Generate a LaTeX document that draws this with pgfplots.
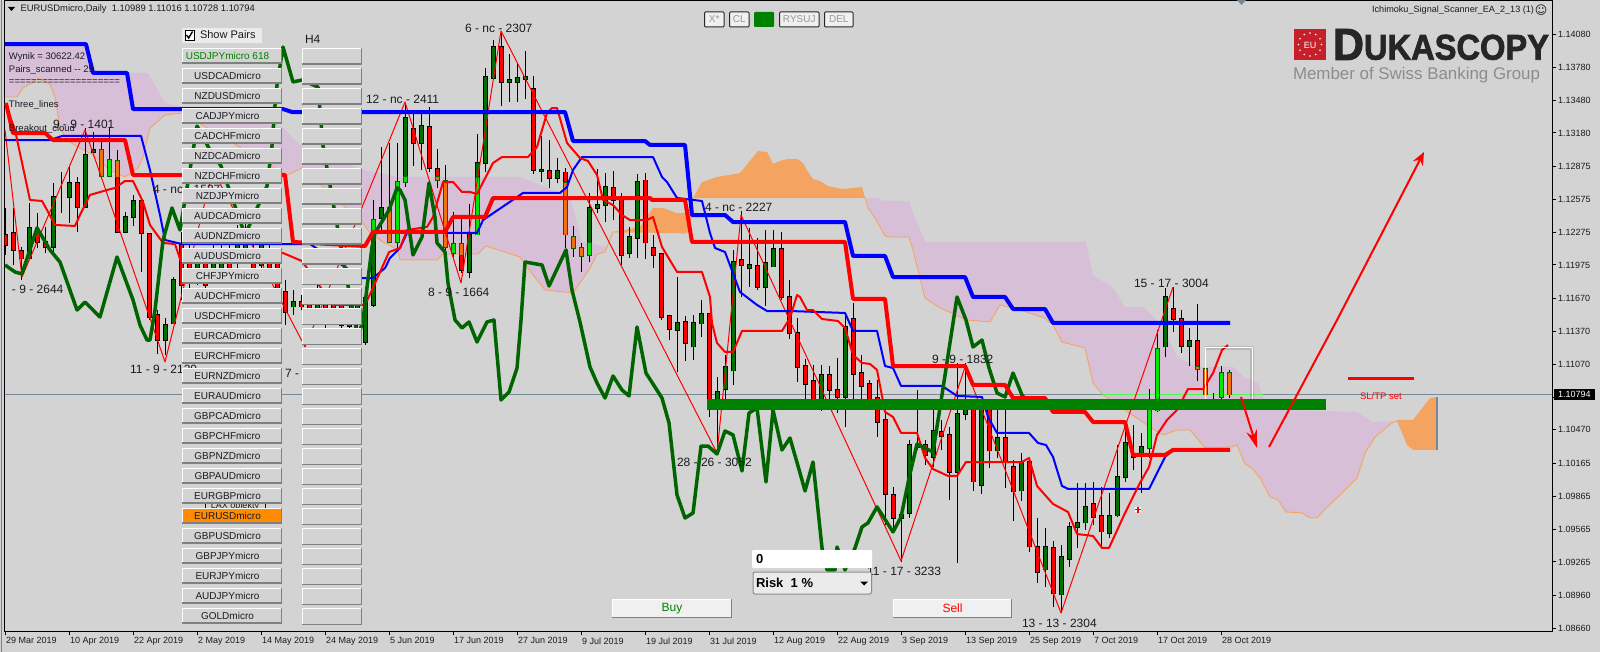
\documentclass[border=0pt]{standalone}
\usepackage{fontspec}
\setmainfont{Liberation Sans}
\newfontfamily\dejavu{DejaVu Sans}
\newfontfamily\logofont{Liberation Sans}[BoldFeatures={FakeBold=2}]
\usepackage{graphicx}
\usepackage{pgfplots}
\usepackage{pgfplotstable}
\pgfplotsset{compat=1.18}
\usetikzlibrary{arrows.meta}

\definecolor{bg}{HTML}{D3D3D3}
\definecolor{kumo}{HTML}{D8BFD8}
\definecolor{sandy}{HTML}{F4A460}
\definecolor{candlegreen}{HTML}{007000}
\definecolor{candlelime}{HTML}{00E600}
\definecolor{candleorange}{HTML}{F07010}
\definecolor{chikou}{HTML}{006400}
\definecolor{barbottom}{HTML}{008000}
\definecolor{slate}{HTML}{778899}
\definecolor{txt}{HTML}{1A1A22}
\definecolor{logored}{HTML}{C8202A}
\definecolor{activebtn}{HTML}{FF8C00}

\newcommand\fs[1]{\fontsize{#1}{#1}\selectfont}

% high / low per bar
\pgfplotstableread{
x h l
0 1.12495 1.12066
1 1.12495 1.11975
2 1.12139 1.11838
3 1.12541 1.12021
4 1.12449 1.12130
5 1.12322 1.12084
6 1.12723 1.12084
7 1.12823 1.12449
8 1.12869 1.12358
9 1.12778 1.12276
10 1.13225 1.12504
11 1.13188 1.13006
12 1.13115 1.12778
13 1.13234 1.12778
14 1.13024 1.12267
15 1.12458 1.12267
16 1.12614 1.12331
17 1.12568 1.11911
18 1.12267 1.11473
19 1.11564 1.11163
20 1.11491 1.11154
21 1.11865 1.11437
22 1.12276 1.11656
23 1.12203 1.11747
24 1.12112 1.11792
25 1.12112 1.11729
26 1.12157 1.11838
27 1.12203 1.11884
28 1.12203 1.11838
29 1.12340 1.11929
30 1.12367 1.12002
31 1.12313 1.11856
32 1.12249 1.11911
33 1.12157 1.11838
34 1.12112 1.11692
35 1.11838 1.11427
36 1.11747 1.11519
37 1.11701 1.11564
38 1.11729 1.11491
39 1.11792 1.11455
40 1.11747 1.11400
41 1.11701 1.11427
42 1.11674 1.11400
43 1.11656 1.11382
44 1.11747 1.11336
45 1.11774 1.11245
46 1.12568 1.11592
47 1.13052 1.12267
48 1.13088 1.12185
49 1.13088 1.12112
50 1.13453 1.12687
51 1.13362 1.12878
52 1.13362 1.12842
53 1.13417 1.12823
54 1.13033 1.12678
55 1.12887 1.12084
56 1.12458 1.12048
57 1.12413 1.11902
58 1.12532 1.11856
59 1.13170 1.12249
60 1.13773 1.12823
61 1.14028 1.13663
62 1.14101 1.13426
63 1.13900 1.13462
64 1.13818 1.13462
65 1.13928 1.13490
66 1.13699 1.12805
67 1.13152 1.12732
68 1.13115 1.12678
69 1.12951 1.12723
70 1.12860 1.12130
71 1.12331 1.12048
72 1.12176 1.11911
73 1.12632 1.12002
74 1.12851 1.12449
75 1.12814 1.12367
76 1.12833 1.12385
77 1.12632 1.11975
78 1.12322 1.12039
79 1.12805 1.12039
80 1.12814 1.12030
81 1.12249 1.11947
82 1.12084 1.11473
83 1.11510 1.11290
84 1.11865 1.10998
85 1.11510 1.11099
86 1.11519 1.11108
87 1.11656 1.11318
88 1.11528 1.10588
89 1.10953 1.10259
90 1.11154 1.10743
91 1.12112 1.10880
92 1.12468 1.11683
93 1.12313 1.11774
94 1.12221 1.11747
95 1.12294 1.11601
96 1.12294 1.11957
97 1.12276 1.11656
98 1.11838 1.11300
99 1.11491 1.10907
100 1.11117 1.10743
101 1.11062 1.10697
102 1.11062 1.10643
103 1.11053 1.10697
104 1.11126 1.10624
105 1.11519 1.10497
106 1.11628 1.10697
107 1.11154 1.10697
108 1.10926 1.10697
109 1.10926 1.10405
110 1.10679 1.09602
111 1.09949 1.09575
112 1.09694 1.09265
113 1.10378 1.09666
114 1.10834 1.10287
115 1.10378 1.10150
116 1.10652 1.10132
117 1.10561 1.10287
118 1.10497 1.09831
119 1.11081 1.09256
120 1.11081 1.10561
121 1.10743 1.09913
122 1.10716 1.09885
123 1.10743 1.10123
124 1.10652 1.10214
125 1.10679 1.09940
126 1.10195 1.09639
127 1.10259 1.09821
128 1.10214 1.09356
129 1.09666 1.09073
130 1.09575 1.09037
131 1.09456 1.08854
132 1.09420 1.08799
133 1.09630 1.09219
134 1.09986 1.09393
135 1.09986 1.09557
136 1.09995 1.09602
137 1.09949 1.09393
138 1.09894 1.09484
139 1.10332 1.09675
140 1.10515 1.09995
141 1.10515 1.10104
142 1.10442 1.09894
143 1.10843 1.10214
144 1.11382 1.10634
145 1.11765 1.11135
146 1.11774 1.11364
147 1.11564 1.11172
148 1.11400 1.11053
149 1.11619 1.10916
150 1.11062 1.10780
151 1.10807 1.10743
152 1.11053 1.10752
153 1.11017 1.10761
}\wicktable

\pgfplotstableread{
x t b
0 1.12249 1.12157
1 1.12267 1.12112
2 1.12103 1.12030
4 1.12276 1.12185
5 1.12185 1.12139
9 1.12723 1.12504
14 1.12778 1.12276
17 1.12559 1.12267
18 1.12258 1.11500
19 1.11519 1.11290
22 1.12157 1.11792
23 1.12112 1.11884
25 1.12002 1.11792
28 1.12039 1.11929
31 1.12066 1.11884
33 1.12066 1.11884
34 1.12039 1.11729
35 1.11729 1.11546
37 1.11637 1.11592
38 1.11674 1.11546
40 1.11656 1.11564
41 1.11656 1.11519
42 1.11610 1.11427
43 1.11564 1.11418
51 1.13216 1.13088
53 1.13234 1.12860
54 1.12851 1.12778
57 1.12066 1.11929
62 1.13964 1.13645
66 1.13581 1.12842
68 1.12833 1.12769
70 1.12823 1.12723
76 1.12678 1.12568
77 1.12568 1.12066
80 1.12750 1.12176
81 1.12130 1.12066
82 1.12075 1.11500
83 1.11510 1.11391
85 1.11455 1.11263
88 1.11528 1.10752
92 1.12021 1.11975
94 1.11966 1.11774
97 1.12121 1.11683
98 1.11683 1.11354
99 1.11354 1.11044
100 1.11053 1.10889
101 1.10916 1.10743
103 1.10971 1.10834
104 1.10834 1.10770
106 1.11482 1.10980
107 1.10989 1.10871
108 1.10889 1.10752
109 1.10761 1.10542
110 1.10561 1.09885
111 1.09876 1.09666
115 1.10332 1.10241
117 1.10451 1.10414
118 1.10424 1.10086
121 1.10652 1.09995
123 1.10670 1.10278
125 1.10396 1.10177
126 1.10132 1.09904
128 1.10177 1.09402
129 1.09402 1.09173
131 1.09393 1.08973
136 1.09794 1.09675
137 1.09685 1.09539
141 1.10241 1.10223
146 1.11573 1.11482
147 1.11482 1.11236
149 1.11281 1.11044
}\redbodies

\pgfplotstableread{
x t b
3 1.12313 1.12030
6 1.12595 1.12139
8 1.12723 1.12595
10 1.12979 1.12504
11 1.13024 1.13006
15 1.12413 1.12276
16 1.12559 1.12413
20 1.11427 1.11290
21 1.11838 1.11437
24 1.12021 1.11884
26 1.12066 1.11929
27 1.12112 1.11947
29 1.12203 1.12002
30 1.12276 1.12112
32 1.12157 1.11975
36 1.11637 1.11592
39 1.11701 1.11564
44 1.11656 1.11473
45 1.11674 1.11272
46 1.12203 1.11610
47 1.12495 1.12404
50 1.13316 1.12778
52 1.13243 1.13088
58 1.12249 1.11911
59 1.12906 1.12769
60 1.13690 1.12906
61 1.13964 1.13681
63 1.13663 1.13645
64 1.13681 1.13645
65 1.13690 1.13672
67 1.12842 1.12833
69 1.12833 1.12769
73 1.12495 1.12176
74 1.12522 1.12495
75 1.12687 1.12522
78 1.12230 1.12084
79 1.12732 1.12221
84 1.11446 1.11382
86 1.11446 1.11227
87 1.11528 1.11437
89 1.10816 1.10743
90 1.11044 1.10843
91 1.12002 1.11008
93 1.11975 1.11947
95 1.11993 1.11774
96 1.12121 1.11957
102 1.10971 1.10752
105 1.11409 1.10770
112 1.09694 1.09666
113 1.10332 1.09712
114 1.10332 1.10314
116 1.10460 1.10223
119 1.10615 1.10086
120 1.10652 1.10615
122 1.10652 1.09967
124 1.10396 1.10278
127 1.10177 1.09913
130 1.09402 1.09192
132 1.09310 1.08964
133 1.09584 1.09292
134 1.09621 1.09584
135 1.09767 1.09621
138 1.09685 1.09529
139 1.10040 1.09685
140 1.10351 1.10040
142 1.10314 1.10241
145 1.11683 1.11227
148 1.11281 1.11236
}\greenbodies

\pgfplotstableread{
x t b
13 1.12933 1.12787
46 1.12385 1.12203
49 1.12732 1.12185
50 1.12778 1.12732
56 1.12166 1.12084
59 1.12769 1.12249
73 1.12176 1.12066
143 1.10652 1.10305
144 1.11208 1.10643
152 1.10989 1.10770
}\limebodies

\pgfplotstableread{
x t b
12 1.13024 1.12787
14 1.12924 1.12778
48 1.12495 1.12185
54 1.12778 1.12750
55 1.12741 1.12139
57 1.12166 1.12066
70 1.12723 1.12249
71 1.12230 1.12130
72 1.12130 1.12057
149 1.11044 1.11026
150 1.11026 1.10789
153 1.10989 1.10789
}\orangebodies

\newcommand\bodies[3]{%
  \addplot[draw=none,no markers,forget plot,error bars/.cd,y dir=plus,y explicit,error mark=none,
    error bar style={line width=5pt,#3}]
    table[x=x,y expr=\thisrow{b}-0.00005,y error plus expr=\thisrow{t}-\thisrow{b}+0.0001] {#1};
  \addplot[draw=none,no markers,forget plot,error bars/.cd,y dir=plus,y explicit,error mark=none,
    error bar style={line width=3pt,#2}]
    table[x=x,y=b,y error plus expr=\thisrow{t}-\thisrow{b}] {#1};
}
% x0 y0 x1 y1 fill textcolour text
\newcommand\btn[7]{%
  \fill[#5] (#1,#2) rectangle (#3,#4);
  \draw[white,line width=1.2pt] (#1+0.5,#4) -- (#1+0.5,#2+0.5) -- (#3,#2+0.5);
  \draw[black!50,line width=1.6pt] (#1,#4-0.7) -- (#3-0.7,#4-0.7) -- (#3-0.7,#2);
  \node[font=\fs{10},text=#6] at ({(#1+#3)/2-4.5},{(#2+#4)/2}) {#7};
}
\newcommand\tool[3]{%
  \fill[white!94!black,draw=black!85,line width=1pt,rounded corners=1pt] (#1,12) rectangle (#2,27);
  \node[font=\fs{10},text=black!40] at ({(#1+#2)/2},19.5) {#3};
}

\begin{document}
\begin{tikzpicture}
\useasboundingbox (0,0) rectangle (1600pt,-652pt);
\fill[bg] (0,0) rectangle (1600pt,-652pt);
\fill[gray] (0.5pt,0) rectangle (2pt,-652pt);

\begin{axis}[
  at={(4.7pt,-631.3pt)},anchor=south west,
  scale only axis,width=1547.3pt,height=630.3pt,
  xmin=-0.1,xmax=193.31,ymin=1.08632,ymax=1.14384,
  xtick={0,8,...,152},
  xticklabels={29 Mar 2019,10 Apr 2019,22 Apr 2019,2 May 2019,14 May 2019,24 May 2019,5 Jun 2019,17 Jun 2019,27 Jun 2019,9 Jul 2019,19 Jul 2019,31 Jul 2019,12 Aug 2019,22 Aug 2019,3 Sep 2019,13 Sep 2019,25 Sep 2019,7 Oct 2019,17 Oct 2019,28 Oct 2019},
  ytick={1.14080,1.13780,1.13480,1.13180,1.12875,1.12575,1.12275,1.11975,1.11670,1.11370,1.11070,1.10765,1.10470,1.10165,1.09865,1.09565,1.09265,1.08960,1.08660},
  yticklabels={1.14080,1.13780,1.13480,1.13180,1.12875,1.12575,1.12275,1.11975,1.11670,1.11370,1.11070,1.10765,1.10470,1.10165,1.09865,1.09565,1.09265,1.08960,1.08660},
  xtick pos=bottom,ytick pos=right,yticklabel pos=right,
  tick align=outside,major tick length=4pt,
  tick style={black,line width=1pt},
  axis line style={black,line width=1pt},
  xticklabel style={anchor=north west,font=\fs{9},xshift=-0.5pt,yshift=-1pt,inner sep=1pt,text=txt},
  yticklabel style={anchor=west,font=\fs{9},inner sep=1pt,xshift=1pt,text=txt},
  line join=round,
]
% cloud
\addplot[fill=kumo,draw=none,forget plot] coordinates {
(-0.06,1.13991)(10.06,1.13991)(11.44,1.13727)(17.81,1.13727)(19.94,1.13453)(34.69,1.13225)(37.06,1.13052)(44.69,1.12842)(49.31,1.12778)(64.31,1.12778)(70.56,1.12595)(72.06,1.12185)(75.19,1.12139)(75.94,1.12276)
(74.94,1.12093)(73.94,1.12075)(73.06,1.11947)(70.94,1.11719)(67.44,1.11747)(65.94,1.11884)(64.31,1.12048)(60.06,1.12148)(59.06,1.12075)(54.69,1.12075)(53.94,1.12021)(49.31,1.12021)(49.06,1.12112)(47.19,1.12185)(45.56,1.12267)(44.69,1.12358)(37.06,1.12860)(35.19,1.12796)(22.06,1.13362)(19.94,1.13344)(18.06,1.13225)(17.19,1.12960)(16.56,1.12860)(14.94,1.12778)(13.06,1.12842)(10.94,1.12979)(9.06,1.13052)(7.69,1.13115)(6.81,1.13234)(6.19,1.13508)(5.56,1.13626)(4.06,1.13681)(3.31,1.13636)(2.19,1.13590)(1.44,1.13508)(-0.06,1.13508)
};
\addplot[fill=kumo,draw=none,forget plot] coordinates {
(107.44,1.12586)(109.06,1.12586)(109.69,1.12559)(112.94,1.12559)(113.44,1.12449)(114.31,1.12294)(115.06,1.12185)(135.06,1.12185)(135.94,1.11884)(138.44,1.11765)(139.94,1.11592)(142.19,1.11592)(144.69,1.11409)(146.44,1.11135)(148.94,1.11044)(153.44,1.11044)(154.94,1.10944)(156.56,1.10898)(157.19,1.10770)(158.06,1.10652)(168.94,1.10634)(170.81,1.10542)(173.94,1.10551)
(173.31,1.10533)(171.19,1.10405)(169.94,1.10259)(168.94,1.10031)(166.56,1.09858)(164.81,1.09739)(163.94,1.09666)(163.06,1.09666)(162.06,1.09712)(160.06,1.09721)(159.06,1.09831)(158.06,1.09858)(156.81,1.10031)(155.94,1.10113)(154.94,1.10159)(153.94,1.10332)(153.31,1.10314)(149.94,1.10305)(148.06,1.10469)(146.44,1.10469)(144.69,1.10424)(143.06,1.10497)(140.31,1.10634)(137.19,1.10789)(135.94,1.10898)(134.94,1.11218)(132.06,1.11272)(130.94,1.11427)(129.94,1.11491)(125.94,1.11583)(124.31,1.11610)(123.06,1.11455)(120.19,1.11473)(116.81,1.11583)(114.94,1.11674)(113.44,1.12112)(112.94,1.12230)(110.56,1.12230)(109.94,1.12240)(108.69,1.12404)(107.81,1.12495)(107.44,1.12586)
};
\addplot[fill=sandy,draw=none,forget plot] coordinates {
(75.94,1.12276)(79.31,1.12322)(80.94,1.12495)(82.19,1.12495)(83.94,1.12449)(85.19,1.12449)(85.94,1.12586)(85.94,1.12449)(85.19,1.12267)(75.94,1.12276)
};
\addplot[fill=sandy,draw=none,forget plot] coordinates {
(85.94,1.12586)(87.06,1.12732)(88.94,1.12778)(91.81,1.12814)(94.06,1.13015)(95.19,1.13006)(95.94,1.12897)(96.81,1.12924)(97.69,1.12942)(98.94,1.12942)(99.69,1.12906)(100.31,1.12823)(100.94,1.12760)(101.81,1.12741)(102.81,1.12696)(104.56,1.12668)(106.19,1.12678)(107.06,1.12687)(107.44,1.12586)
};
\addplot[fill=sandy,draw=none,forget plot] coordinates {
(173.94,1.10561)(175.94,1.10561)(178.06,1.10761)(178.94,1.10770)(178.94,1.10287)(175.94,1.10287)(175.19,1.10332)(173.94,1.10551)
};
\addplot[sandy,line width=0.9pt,forget plot] coordinates {
(-0.06,1.13508)(1.44,1.13508)(2.19,1.13590)(3.31,1.13636)(4.06,1.13681)(5.56,1.13626)(6.19,1.13508)(6.81,1.13234)(7.69,1.13115)(9.06,1.13052)(10.94,1.12979)(13.06,1.12842)(14.94,1.12778)(16.56,1.12860)(17.19,1.12960)(18.06,1.13225)(19.94,1.13344)(22.06,1.13362)(35.19,1.12796)(37.06,1.12860)(44.69,1.12358)(45.56,1.12267)(47.19,1.12185)(49.06,1.12112)(49.31,1.12021)(53.94,1.12021)(54.69,1.12075)(59.06,1.12075)(60.06,1.12148)(64.31,1.12048)(65.94,1.11884)(67.44,1.11747)(70.94,1.11719)(73.06,1.11947)(73.94,1.12075)(74.94,1.12093)(75.94,1.12276)(79.31,1.12276)(85.19,1.12267)
};
\addplot[sandy,line width=0.9pt,forget plot] coordinates {
(107.44,1.12586)(107.81,1.12495)(108.69,1.12404)(109.94,1.12240)(110.56,1.12230)(112.94,1.12230)(113.44,1.12112)(114.94,1.11674)(116.81,1.11583)(120.19,1.11473)(123.06,1.11455)(124.31,1.11610)(125.94,1.11583)(129.94,1.11491)(130.94,1.11427)(132.06,1.11272)(134.94,1.11218)(135.94,1.10898)(137.19,1.10789)(140.31,1.10634)(143.06,1.10497)(144.69,1.10424)(146.44,1.10469)(148.06,1.10469)(149.94,1.10305)(153.31,1.10314)(153.94,1.10332)(154.94,1.10159)(155.94,1.10113)(156.81,1.10031)(158.06,1.09858)(159.06,1.09831)(160.06,1.09721)(162.06,1.09712)(163.06,1.09666)(163.94,1.09666)(164.81,1.09739)(166.56,1.09858)(168.94,1.10031)(169.94,1.10259)(171.19,1.10405)(173.31,1.10533)(173.94,1.10551)
};
\addplot[slate,line width=1.2pt,forget plot] coordinates {(178.94,1.10770)(178.94,1.10287)};

% price line
\addplot[slate,line width=1pt,forget plot] coordinates {(-0.1,1.10794)(193.31,1.10794)};
\addplot[green!70!white,line width=1pt,forget plot] coordinates {(137.06,1.10794)(157.19,1.10794)};

% candles
\addplot[draw=none,no markers,forget plot,error bars/.cd,y dir=plus,y explicit,error mark=none,
  error bar style={line width=1pt,black}]
  table[x=x,y=l,y error plus expr=\thisrow{h}-\thisrow{l}] {\wicktable};
\bodies{\redbodies}{red}{black}
\bodies{\greenbodies}{candlegreen}{black}
\bodies{\limebodies}{candlelime}{chikou}
\bodies{\orangebodies}{candleorange}{chikou}

% zigzag
\addplot[red,line width=1pt,forget plot] coordinates {
(-0.06,1.13207)(2.06,1.11865)(9.94,1.13207)(19.94,1.11090)(25.94,1.12842)(37.44,1.11227)(49.94,1.13462)(56.94,1.11811)(61.94,1.14110)(88.94,1.10259)(91.94,1.12431)(111.94,1.09274)(119.94,1.11044)(131.94,1.08799)(145.94,1.11774)
};
% thin blue
\addplot[blue,line width=2pt,forget plot] coordinates {
(-0.06,1.13115)(5.56,1.13115)(7.06,1.13152)(16.94,1.13152)(18.06,1.12842)(19.31,1.12431)(19.94,1.12203)(22.06,1.12166)(38.06,1.12166)(44.56,1.11856)(45.94,1.11856)(47.44,1.11947)(48.06,1.12039)(49.31,1.12130)(50.19,1.12267)(54.69,1.12267)(58.94,1.12267)(59.69,1.12385)(63.94,1.12595)(64.69,1.12632)(69.31,1.12632)(70.19,1.12687)(70.94,1.12842)(72.06,1.12960)(80.94,1.12960)(82.06,1.12778)(82.69,1.12732)(83.94,1.12586)(87.06,1.12559)(88.06,1.12267)(88.69,1.12130)(89.94,1.12093)(91.81,1.11729)(93.94,1.11610)(95.19,1.11555)(98.06,1.11555)(104.94,1.11537)(105.94,1.11373)(108.94,1.11373)(109.94,1.11053)(110.94,1.11035)(111.94,1.10871)(117.06,1.10871)(118.94,1.10780)(122.06,1.10770)(122.81,1.10588)(123.94,1.10442)(127.94,1.10442)(129.06,1.10351)(130.06,1.10332)(130.94,1.10223)(132.06,1.09958)(132.81,1.09931)(142.94,1.09931)(144.94,1.10223)(145.94,1.10287)
};
% thin red
\addplot[red,line width=2pt,forget plot] coordinates {
(-0.06,1.13453)(1.19,1.13207)(3.06,1.12568)(4.56,1.12559)(5.19,1.12477)(6.19,1.12340)(8.69,1.12331)(9.31,1.12431)(10.56,1.12614)(12.69,1.12659)(13.69,1.12678)(14.94,1.12741)(15.94,1.12741)(17.19,1.12550)(18.06,1.12340)(19.69,1.12176)(21.19,1.12166)(21.94,1.12002)(26.81,1.12002)(30.56,1.12066)(34.69,1.12084)(37.06,1.12011)(40.94,1.11610)(44.94,1.11610)(45.81,1.11747)(47.94,1.12093)(49.31,1.12130)(50.19,1.12294)(52.69,1.12322)(53.44,1.12413)(54.69,1.12732)(55.94,1.12732)(57.06,1.12641)(58.06,1.12641)(58.94,1.12623)(60.94,1.12906)(62.06,1.12960)(65.31,1.12960)(66.44,1.13052)(67.69,1.13362)(68.31,1.13407)(68.94,1.13407)(70.19,1.13088)(71.81,1.12951)(72.81,1.12924)(73.94,1.12796)(74.69,1.12568)(75.94,1.12522)(77.06,1.12431)(78.06,1.12385)(80.19,1.12385)(80.94,1.12413)(82.06,1.12139)(83.94,1.11911)(87.06,1.11911)(88.06,1.11683)(88.31,1.11446)(88.94,1.11263)(89.94,1.11181)(90.94,1.11181)(92.06,1.11373)(97.06,1.11373)(98.06,1.11491)(98.94,1.11701)(99.31,1.11683)(100.19,1.11564)(100.94,1.11564)(102.06,1.11482)(104.06,1.11464)(104.94,1.11400)(105.94,1.11154)(107.06,1.11081)(108.06,1.11072)(108.94,1.11017)(109.94,1.10634)(110.94,1.10588)(111.94,1.10442)(113.94,1.10442)(114.94,1.10214)(115.94,1.10113)(117.81,1.10050)(118.94,1.10050)(120.06,1.10177)(127.06,1.10177)(127.94,1.10214)(128.94,1.09958)(130.94,1.09794)(132.81,1.09721)(133.94,1.09520)(135.94,1.09502)(137.06,1.09393)(137.94,1.09393)(139.94,1.09712)(141.81,1.09986)(142.94,1.10132)(143.94,1.10424)(145.19,1.10561)(146.44,1.10652)(147.81,1.10843)(149.69,1.10843)(150.94,1.10989)(152.06,1.11199)(152.81,1.11245)
};
% chikou
\addplot[chikou,line width=3.5pt,forget plot] coordinates {
(-0.06,1.11975)(1.19,1.11911)(2.06,1.11893)(3.94,1.12313)(5.56,1.12112)(6.81,1.12002)(8.94,1.11564)(9.94,1.11637)(11.81,1.11500)(13.94,1.12048)(15.94,1.11656)(16.81,1.11427)(17.69,1.11290)(18.06,1.11290)(18.69,1.11564)(19.69,1.12203)(20.81,1.12495)(21.81,1.12294)(23.06,1.12842)(23.94,1.13243)(25.56,1.13024)(26.94,1.12878)(29.94,1.12249)(32.69,1.12696)(33.31,1.13061)(33.69,1.13435)(33.94,1.13617)(34.69,1.13964)(35.94,1.13645)(37.06,1.13663)(39.06,1.13599)(39.69,1.13061)(42.44,1.11929)(44.06,1.11309)(44.69,1.11473)(45.81,1.12139)(46.19,1.12267)(47.94,1.12477)(48.94,1.12678)(49.31,1.12659)(49.94,1.12568)(50.94,1.12066)(52.06,1.12230)(52.94,1.12723)(53.69,1.12404)(53.94,1.12176)(54.94,1.12093)(55.31,1.11811)(56.19,1.11473)(57.06,1.11400)(57.94,1.11455)(58.94,1.11272)(60.19,1.11455)(61.06,1.11473)(61.94,1.10743)(62.94,1.10816)(63.94,1.11035)(64.44,1.11473)(64.94,1.12002)(67.06,1.11975)(67.94,1.11783)(70.06,1.12112)(70.81,1.11747)(71.81,1.11455)(73.06,1.11044)(73.94,1.10898)(74.94,1.10761)(75.94,1.10962)(77.06,1.10834)(77.94,1.10780)(78.94,1.11409)(80.06,1.10989)(82.06,1.10761)(82.94,1.10533)(83.94,1.09876)(84.94,1.09666)(85.94,1.09712)(86.94,1.10323)(87.81,1.10323)(88.94,1.10250)(89.94,1.10460)(90.94,1.10424)(92.06,1.10095)(92.94,1.10624)(93.94,1.10670)(95.06,1.09995)(95.94,1.10652)(97.06,1.10287)(98.06,1.10396)(99.31,1.10077)(99.94,1.09913)(100.94,1.10177)(102.06,1.09393)(102.69,1.09192)(103.69,1.09192)(103.94,1.09402)(104.94,1.09192)(106.19,1.09393)(107.06,1.09584)(107.81,1.09621)(108.94,1.09767)(110.94,1.09539)(111.94,1.09675)(112.94,1.10031)(113.94,1.10341)(115.94,1.10268)(117.06,1.10789)(118.94,1.11683)(120.06,1.11473)(120.94,1.11227)(122.06,1.11290)(122.94,1.11035)(123.94,1.10807)(124.94,1.10770)(125.94,1.10989)(127.06,1.10789)(128.06,1.10697)
};
% thick blue
\addplot[blue,line width=4pt,forget plot] coordinates {
(-0.06,1.13991)(10.06,1.13991)(10.94,1.13727)(15.19,1.13727)(15.94,1.13398)(34.69,1.13398)(35.81,1.13371)(69.94,1.13371)(70.94,1.13106)(79.94,1.13106)(80.56,1.13070)(84.94,1.13070)(85.81,1.12431)(89.94,1.12431)(90.94,1.12367)(104.94,1.12367)(105.94,1.12057)(109.94,1.12057)(110.94,1.11865)(119.94,1.11865)(120.94,1.11683)(124.94,1.11683)(125.94,1.11573)(129.94,1.11573)(130.94,1.11446)(153.06,1.11446)
};
% thick red
\addplot[red,line width=4pt,forget plot] coordinates {
(0.06,1.13453)(0.94,1.13179)(4.94,1.13179)(5.94,1.13115)(14.94,1.13115)(15.94,1.12796)(34.94,1.12796)(35.94,1.12185)(44.94,1.12148)(45.94,1.12276)(54.94,1.12276)(55.94,1.12413)(59.94,1.12413)(60.94,1.12586)(80.56,1.12586)(80.81,1.12568)(84.94,1.12568)(85.81,1.12185)(104.94,1.12185)(105.94,1.11665)(109.94,1.11665)(110.94,1.11053)(119.94,1.11053)(120.94,1.10880)(124.94,1.10880)(125.94,1.10761)(129.94,1.10761)(130.94,1.10634)(134.94,1.10634)(135.94,1.10542)(139.94,1.10542)(140.94,1.10241)(144.94,1.10241)(145.94,1.10287)(153.06,1.10287)
};
% white frame round the last bars
\addplot[black,opacity=0.12,line width=4pt,forget plot] coordinates {(149.94,1.11218)(155.81,1.11218)(155.81,1.10743)};
\addplot[white,line width=1pt,forget plot] coordinates {(149.94,1.10743)(149.94,1.11218)(155.81,1.11218)(155.81,1.10743)};
% bottom level and SL/TP level
\addplot[barbottom,line width=11pt,forget plot] coordinates {(87.69,1.10702)(165.06,1.10702)};
\addplot[red,line width=3pt,forget plot] coordinates {(167.81,1.10935)(176.06,1.10935)};
% arrows
\addplot[red,line width=2pt,-{Stealth[length=18pt,width=11pt]},forget plot] coordinates {(154.44,1.10770)(156.44,1.10305)};
\addplot[red,line width=2pt,-{Stealth[length=13pt,width=11pt]},forget plot] coordinates {(157.94,1.10314)(166.44,1.11473)(177.31,1.13006)};
\end{axis}

\begin{scope}[x=1pt,y=-1pt,every node/.style={inner sep=0pt,outer sep=0pt,text=txt}]
% header
\fill[black] (8,7) -- (15,7) -- (11.5,11) -- cycle;
\node[anchor=west,font=\fs{9.4}] at (20.5,9) {EURUSDmicro,Daily\ \ 1.10989 1.11016 1.10728 1.10794};
\node[anchor=east,font=\fs{9.1}] at (1534,10) {Ichimoku\_Signal\_Scanner\_EA\_2\_13 (1)};
\node[font=\dejavu\fs{12}] at (1541,10) {☺};
\fill[slate] (1237,0) -- (1246,0) -- (1241.5,5) -- cycle;

% text block on the left
\begin{scope}[every node/.append style={anchor=west,font=\fs{9.5}}]
\node at (9,57) {Wynik = 30622.42};
\node at (9,70) {Pairs\_scanned {-}{-} 29};
\node at (9,82) {====================};
\node at (9,105) {Three\_lines};
\node at (9,129) {Breakout\_cloud};
\end{scope}

% zigzag labels
\begin{scope}[every node/.append style={anchor=west,font=\fs{12}}]
\node at (53,124) {9 - 9 - 1401};
\node at (153,189) {4 - nc - 1537};
\node at (12,289) {- 9 - 2644};
\node at (130,369) {11 - 9 - 2129};
\node at (285,373) {7 -};
\node at (366,99) {12 - nc - 2411};
\node at (428,292) {8 - 9 - 1664};
\node at (465,28) {6 - nc - 2307};
\node at (705,207) {4 - nc - 2227};
\node at (677,462) {28 - 26 - 3052};
\node at (1134,283) {15 - 17 - 3004};
\node at (932,359) {9 - 9 - 1832};
\node at (1022,623) {13 - 13 - 2304};
\node[anchor=east] at (941,571) {11 - 17 - 3233};
\end{scope}
\node[anchor=west,font=\fs{9.5},text=red] at (1360,396) {SL/TP set};
\node[anchor=center,font=\fs{9}] at (235,506) {LAX obiekty};
\draw[black] (205,503) -- (205,508) (265,503) -- (265,508);

% mouse cursor
\fill[white] (1135,507) rectangle (1141,512);
\draw[red,line width=1.5pt] (1135,509.5) -- (1141,509.5) (1138,506.5) -- (1138,512.5);

% current price box
\fill[black] (1554,389) rectangle (1595,400);
\node[anchor=west,font=\fs{9},text=white] at (1558,394.5) {1.10794};

% logo
\fill[logored] (1294,29) rectangle (1326,60);
\foreach \a in {0,30,...,330} \fill[white] ({1310+11.5*cos(\a)},{44.5+11.5*sin(\a)}) circle (0.9);
\node[font=\fs{9},text=white] at (1310,45) {EU};
\node[anchor=south west,text=black!85] at (1333,60) {\resizebox{31pt}{31pt}{\logofont\bfseries D}};
\node[anchor=south west,text=black!85] at (1364,60) {\resizebox{185pt}{25pt}{\logofont\bfseries UKASCOPY}};
\node[anchor=base west,text=black!45] at (1293,80) {\resizebox{247pt}{!}{Member of Swiss Banking Group}};

% buttons
\fill[white!92!black] (182,28) rectangle (262,43);
\fill[white] (185,30) rectangle (194,40);
\draw[black,line width=0.8pt] (185,30) rectangle (194,40);
\draw[black,line width=1.4pt] (186.5,35) -- (188.7,38) -- (192.5,31.5);
\node[anchor=west,font=\fs{11}] at (200,35) {Show Pairs};
\node[anchor=west,font=\fs{12}] at (305,39) {H4};
\foreach \n [count=\k from 0] in {USDJPYmicro 618,USDCADmicro,NZDUSDmicro,CADJPYmicro,CADCHFmicro,NZDCADmicro,NZDCHFmicro,NZDJPYmicro,AUDCADmicro,AUDNZDmicro,AUDUSDmicro,CHFJPYmicro,AUDCHFmicro,USDCHFmicro,EURCADmicro,EURCHFmicro,EURNZDmicro,EURAUDmicro,GBPCADmicro,GBPCHFmicro,GBPNZDmicro,GBPAUDmicro,EURGBPmicro,EURUSDmicro,GBPUSDmicro,GBPJPYmicro,EURJPYmicro,AUDJPYmicro,GOLDmicro} {
  \pgfmathsetmacro\ya{48.3+20*\k}
  \pgfmathsetmacro\yb{\ya+15.2}
  \pgfmathsetmacro\yc{\ya+16.7}
  \ifnum\k=0
    \btn{182}{\ya}{282}{\yb}{bg}{barbottom}{\n}
  \else\ifnum\k=23
    \btn{182}{\ya}{282}{\yb}{activebtn}{txt}{\n}
  \else
    \btn{182}{\ya}{282}{\yb}{bg}{txt}{\n}
  \fi\fi
  \btn{302}{\ya}{362}{\yc}{bg}{txt}{}
}

% trade panel
\btn{612}{599}{732}{618}{white!94!black}{barbottom}{\hspace*{9pt}\fs{12}Buy}
\btn{893}{599}{1012}{618}{white!94!black}{red}{\hspace*{9pt}\fs{12}Sell}
\fill[white,rounded corners=1pt] (752,550) rectangle (872,568);
\node[anchor=west,font=\bfseries\fs{13},text=black] at (756,559) {0};
\fill[black!8,draw=black!45,line width=1pt,rounded corners=2pt] (753,572) rectangle (871.5,594);
\node[anchor=west,font=\bfseries\fs{13},text=black] at (756,583) {Risk\ \ 1 \%};
\fill[black] (860,581.5) -- (868,581.5) -- (864,585.5) -- cycle;

% drawing toolbar
\tool{704.5}{724}{X*}
\tool{729.5}{749}{CL}
\fill[barbottom,rounded corners=1pt] (754,12) rectangle (774,27);
\tool{779.5}{819}{RYSUJ}
\tool{824.5}{853}{DEL}
\end{scope}
\end{tikzpicture}
\end{document}
